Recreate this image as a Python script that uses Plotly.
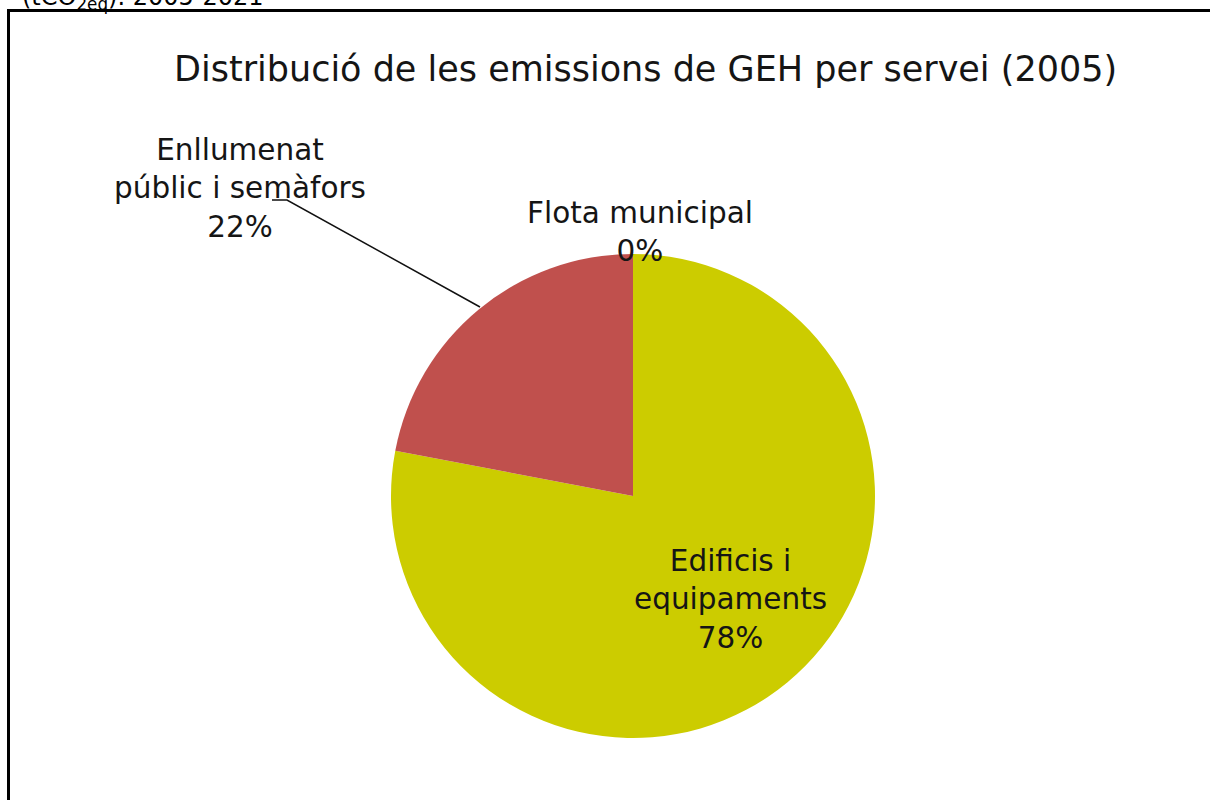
import plotly.graph_objects as go

# ---- data ----
services = ["Edificis i<br>equipaments", "Enllumenat<br>públic i semàfors", "Flota municipal"]
shares = [78, 22, 0]
colors = ["#CCCC00", "#C0504D", "#4F81BD"]
title_text = "Distribució de les emissions de GEH per servei (2005)"
caption_text = "(tCO<sub>2eq</sub>). 2005-2021"

W, H = 1210, 800
FONT = "DejaVu Sans"
TXT = "#151515"

def px(x):
    return x / W

def py(y):
    return 1 - y / H

# pie geometry (pixels)
cx, cy, r = 633, 496, 242

fig = go.Figure()
fig.add_trace(go.Pie(
    labels=[s.replace("<br>", " ") for s in services],
    values=shares,
    sort=False,
    direction="clockwise",
    rotation=0,
    marker=dict(colors=colors, line=dict(width=0)),
    textinfo="none",
    hoverinfo="label+percent",
    showlegend=False,
    domain=dict(x=[px(cx - r), px(cx + r)], y=[py(cy + r), py(cy - r)]),
))

# label positions (pixels) — layout only
label_pos = [(730, 599), (240, 189), (640, 232)]
for name, val, (lx, ly) in zip(services, shares, label_pos):
    fig.add_annotation(
        x=px(lx), y=py(ly), xref="paper", yref="paper",
        text=f"{name}<br>{val}%", showarrow=False,
        xanchor="center", yanchor="middle", align="center",
        font=dict(family=FONT, size=29.5, color=TXT),
    )

# leader line for the Enllumenat label
fig.add_shape(type="path", xref="paper", yref="paper",
              path=f"M {px(272)} {py(200)} L {px(287)} {py(200)} L {px(480)} {py(307)}",
              line=dict(color="#111111", width=1.5))

# title
fig.add_annotation(
    x=px(645), y=py(69), xref="paper", yref="paper",
    text=title_text, showarrow=False, xanchor="center", yanchor="middle",
    font=dict(family=FONT, size=35, color=TXT),
)

# clipped caption at the very top
fig.add_annotation(
    x=px(20), y=py(-2), xref="paper", yref="paper",
    text=caption_text, showarrow=False, xanchor="left", yanchor="middle",
    font=dict(family=FONT, size=24, color="#000000"),
)

# chart frame
fig.add_shape(type="rect", xref="paper", yref="paper",
              x0=px(8.5), x1=1.05, y0=-0.05, y1=py(10.5),
              line=dict(color="#000000", width=3), fillcolor="rgba(0,0,0,0)")

fig.update_layout(
    width=W, height=H, autosize=False,
    margin=dict(l=0, r=0, t=0, b=0),
    paper_bgcolor="white", plot_bgcolor="white",
)

fig.write_html("out.html", config={"displayModeBar": False},
               post_script="document.body.style.margin='0';document.body.style.overflow='hidden';")
